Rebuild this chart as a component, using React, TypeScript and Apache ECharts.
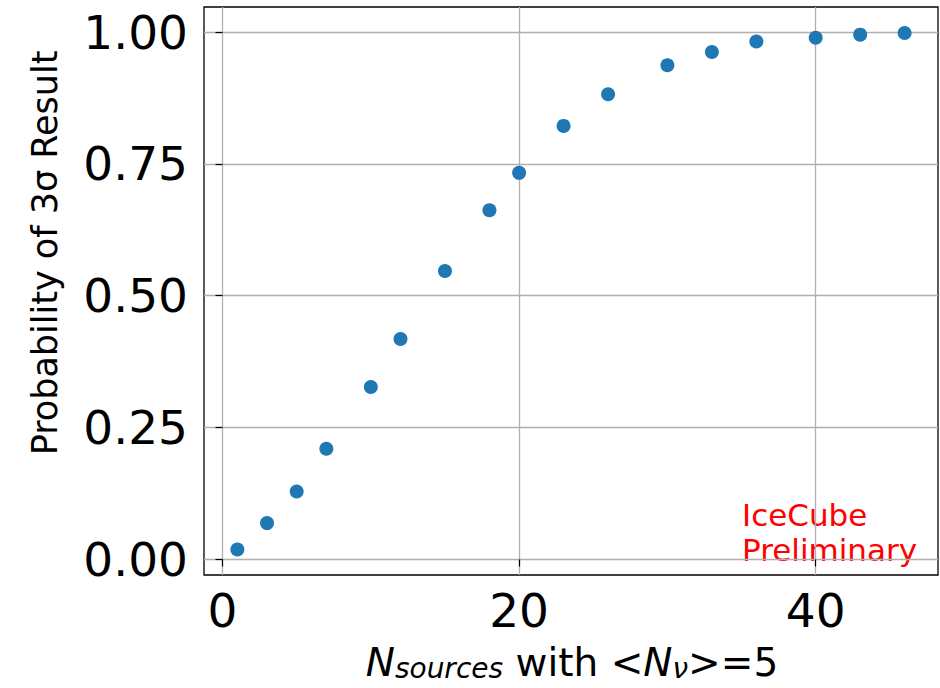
import React, { useEffect, useRef } from "react";
import * as echarts from "echarts";

const xValues = [1, 3, 5, 7, 10, 12, 15, 18, 20, 23, 26, 30, 33, 36, 40, 43, 46];
const yValues = [0.019, 0.069, 0.129, 0.21, 0.327, 0.418, 0.547, 0.662, 0.733, 0.822, 0.882, 0.937, 0.962, 0.982, 0.989, 0.995, 0.998];
const xTicks = [0, 20, 40];
const yTicks = [0, 0.25, 0.5, 0.75, 1.0];
const yTickLabels = ["0.00", "0.25", "0.50", "0.75", "1.00"];

export default function App() {
  const ref = useRef<HTMLDivElement>(null);
  useEffect(() => {
    if (!ref.current) return;
    const chart = echarts.init(ref.current, null, { renderer: "svg" });
    const font = "DejaVu Sans";
    const data = xValues.map((x, i) => [x, yValues[i]]);
    chart.setOption({
      animation: false,
      backgroundColor: "#fff",
      grid: {
        left: 204,
        top: 7,
        right: 2,
        bottom: 113,
        show: true,
        borderColor: "#000",
        borderWidth: 1.3,
        backgroundColor: "transparent",
      },
      xAxis: {
        type: "value",
        min: -1.25,
        max: 48.25,
        axisLine: { show: false },
        axisTick: { show: true, customValues: xTicks, length: 7, lineStyle: { color: "#000", width: 1.2 } },
        axisLabel: {
          customValues: xTicks,
          margin: 12,
          fontFamily: font,
          fontSize: 47,
          color: "#000",
          formatter: (v: number) => String(v),
        },
        splitLine: { show: true, customValues: xTicks, lineStyle: { color: "#b0b0b0", width: 1.3 } },
      },
      yAxis: {
        type: "value",
        min: -0.0294,
        max: 1.0474,
        axisLine: { show: false },
        axisTick: { show: true, customValues: yTicks, length: 7, lineStyle: { color: "#000", width: 1.2 } },
        axisLabel: {
          customValues: yTicks,
          margin: 16,
          fontFamily: font,
          fontSize: 47,
          color: "#000",
          formatter: (v: number) => {
            const idx = yTicks.findIndex((t) => Math.abs(t - v) < 1e-6);
            return idx >= 0 ? yTickLabels[idx] : "";
          },
        },
        splitLine: { show: true, customValues: yTicks, lineStyle: { color: "#b0b0b0", width: 1.3 } },
      },
      series: [
        {
          type: "scatter",
          data,
          symbol: "circle",
          symbolSize: 14,
          itemStyle: { color: "#1f77b4", opacity: 1 },
        },
      ],
      graphic: [
        {
          type: "text",
          x: 45,
          y: 253,
          rotation: Math.PI / 2,
          style: {
            text: "Probability of 3σ Result",
            fontFamily: font,
            fontSize: 35,
            fill: "#000",
            align: "center",
            verticalAlign: "middle",
          },
        },
        {
          type: "text",
          x: 572,
          y: 635,
          style: {
            text: "{i|N}{sub|sources}{n| with <}{i|N}{sub|ν}{n|>=5}",
            fontFamily: font,
            fontSize: 39,
            fill: "#000",
            align: "center",
            verticalAlign: "top",
            rich: {
              i: { fontFamily: font, fontSize: 39, fontStyle: "italic", lineHeight: 47, verticalAlign: "bottom", fill: "#000" },
              n: { fontFamily: font, fontSize: 39, lineHeight: 47, verticalAlign: "bottom", fill: "#000" },
              sub: { fontFamily: font, fontSize: 28, fontStyle: "italic", lineHeight: 28, verticalAlign: "bottom", fill: "#000" },
            },
          },
        },
        {
          type: "text",
          x: 742,
          y: 497,
          style: {
            text: "IceCube\nPreliminary",
            fontFamily: font,
            fontSize: 31,
            lineHeight: 35,
            fill: "#ff0000",
            align: "left",
            verticalAlign: "top",
          },
        },
      ],
    });
    return () => chart.dispose();
  }, []);
  return (
    <div
      ref={ref}
      style={{ position: "fixed", left: 0, top: 0, width: 940, height: 688, background: "#fff" }}
    />
  );
}
